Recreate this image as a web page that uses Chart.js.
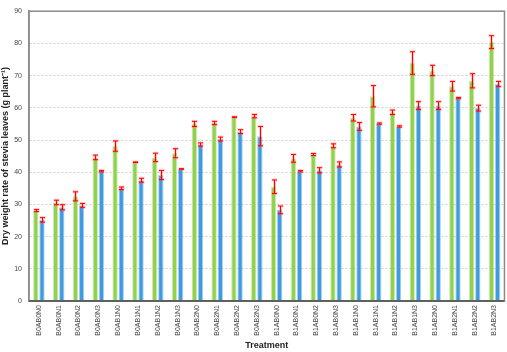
<!DOCTYPE html>
<html>
<head>
<meta charset="utf-8">
<script src="https://cdn.jsdelivr.net/npm/chart.js@4"></script>
<style>
  html, body { margin: 0; padding: 0; background: #fff; }
  #wrap { width: 507px; height: 352px; }
</style>
</head>
<body>
<div id="wrap"><canvas id="chart"></canvas></div>
<script>
// --- Data ---
const treatments = [
  "B0AB0N0", "B0AB0N1", "B0AB0N2", "B0AB0N3",
  "B0AB1N0", "B0AB1N1", "B0AB1N2", "B0AB1N3",
  "B0AB2N0", "B0AB2N1", "B0AB2N2", "B0AB2N3",
  "B1AB0N0", "B1AB0N1", "B1AB0N2", "B1AB0N3",
  "B1AB1N0", "B1AB1N1", "B1AB1N2", "B1AB1N3",
  "B1AB2N0", "B1AB2N1", "B1AB2N2", "B1AB2N3"
];
const greenValues = [
  28.1, 30.6, 32.5, 44.6, 48.1, 43.1, 44.6, 45.9,
  55.0, 55.3, 57.1, 57.4, 35.5, 44.3, 45.5, 48.2,
  56.9, 63.6, 58.6, 73.9, 71.6, 66.7, 68.4, 80.4
];
const greenErrors = [
  0.3, 0.7, 1.4, 0.7, 1.6, 0.1, 1.3, 1.4,
  0.8, 0.5, 0.1, 0.5, 2.1, 1.2, 0.3, 0.6,
  1.0, 3.3, 0.7, 3.5, 1.6, 1.5, 2.2, 2.0
];
const blueValues = [
  25.2, 29.1, 29.7, 40.3, 35.0, 37.5, 39.1, 41.0,
  48.6, 50.3, 52.6, 51.2, 28.3, 40.3, 40.6, 42.4,
  54.2, 55.1, 54.2, 60.7, 60.7, 63.0, 59.9, 67.4
];
const blueErrors = [
  0.7, 0.8, 0.6, 0.2, 0.4, 0.6, 1.4, 0.1,
  0.5, 0.6, 0.6, 3.0, 1.2, 0.2, 0.8, 0.8,
  1.2, 0.2, 0.2, 1.2, 1.2, 0.2, 0.9, 0.8
];
const yTicks = [0, 10, 20, 30, 40, 50, 60, 70, 80, 90];

// --- Plugins ---
const errorBars = {
  id: 'errorBars',
  afterDatasetsDraw(chart) {
    const ctx = chart.ctx;
    const y = chart.scales.y;
    chart.data.datasets.forEach((ds, di) => {
      const meta = chart.getDatasetMeta(di);
      meta.data.forEach((bar, i) => {
        const v = ds.data[i];
        const e = ds.errors[i];
        const top = y.getPixelForValue(v + e);
        const bot = y.getPixelForValue(v - e);
        const x = Math.round(bar.x) + 0.5;
        // soft pink halo first, then the red bar
        [[ 'rgba(255,80,80,0.3)', 3, 3 ], [ '#ff0000', 1, 2.5 ]].forEach(([col, lw, cap]) => {
          ctx.save();
          ctx.strokeStyle = col;
          ctx.lineWidth = lw;
          ctx.beginPath();
          ctx.moveTo(x, top); ctx.lineTo(x, bot);
          ctx.moveTo(x - cap, top); ctx.lineTo(x + cap, top);
          ctx.moveTo(x - cap, bot); ctx.lineTo(x + cap, bot);
          ctx.stroke();
          ctx.restore();
        });
      });
    });
  }
};

const plotFrame = {
  id: 'plotFrame',
  afterDraw(chart) {
    const a = chart.chartArea;
    const ctx = chart.ctx;
    ctx.save();
    ctx.strokeStyle = '#8a8a8a';
    ctx.lineWidth = 1.5;
    ctx.strokeRect(a.left, a.top, a.right - a.left, a.bottom - a.top);
    ctx.strokeStyle = '#555';
    ctx.beginPath();
    ctx.moveTo(a.left, a.bottom);
    ctx.lineTo(a.right, a.bottom);
    ctx.stroke();
    ctx.restore();
  }
};

// --- Chart ---
new Chart(document.getElementById('chart'), {
  type: 'bar',
  data: {
    labels: treatments,
    datasets: [
      {
        data: greenValues,
        errors: greenErrors,
        backgroundColor: '#92d050',
        borderColor: 'rgba(146,208,80,0.45)',
        borderWidth: 1,
        categoryPercentage: 0.62,
        barPercentage: 0.88
      },
      {
        data: blueValues,
        errors: blueErrors,
        backgroundColor: '#3f9ae0',
        borderColor: 'rgba(63,154,224,0.45)',
        borderWidth: 1,
        categoryPercentage: 0.62,
        barPercentage: 0.88
      }
    ]
  },
  plugins: [errorBars, plotFrame],
  options: {
    responsive: true,
    maintainAspectRatio: false,
    animation: false,
    layout: { padding: { top: 5, right: 2, left: 0, bottom: 0 } },
    plugins: {
      legend: { display: false },
      tooltip: { enabled: false }
    },
    scales: {
      x: {
        grid: { display: false, drawTicks: false },
        border: { color: '#555', width: 1.5 },
        afterFit: (s) => { s.height = 51; },
        ticks: {
          color: '#444',
          font: { family: 'Liberation Sans, Arial', size: 7 },
          minRotation: 90,
          maxRotation: 90,
          padding: 4,
          autoSkip: false
        },
        title: {
          display: true,
          text: 'Treatment',
          color: '#222',
          font: { family: 'Liberation Sans, Arial', size: 9, weight: 'bold' },
          padding: { top: 0, bottom: 1 }
        }
      },
      y: {
        min: 0,
        max: 90,
        afterFit: (s) => { s.width = 29; },
        afterBuildTicks: (s) => { s.ticks = yTicks.map(v => ({ value: v })); },
        grid: {
          color: (c) => c.tick.value === 0 ? 'rgba(0,0,0,0)' : '#cfcfcf',
          drawTicks: false
        },
        // in v4 border.dash sets the dash of the grid lines
        border: { color: '#8a8a8a', width: 1.5, dash: [2, 2] },
        ticks: {
          color: '#444',
          font: { family: 'Liberation Sans, Arial', size: 7 },
          padding: 7
        },
        title: {
          display: true,
          text: 'Dry weight rate of stevia leaves (g plant\u207B\u00B9)',
          color: '#222',
          font: { family: 'Liberation Sans, Arial', size: 9, weight: 'bold' },
          padding: { top: 0, bottom: 0 }
        }
      }
    }
  }
});
</script>
</body>
</html>
